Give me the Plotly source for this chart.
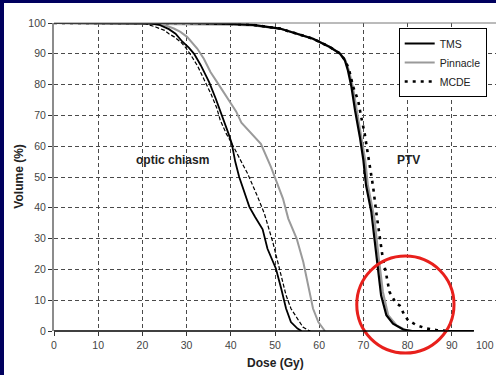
import plotly.graph_objects as go

# ---------------- data ----------------
# optic chiasm DVH
chiasm_tms_dose = [0, 20, 22, 24, 26, 27.5, 29, 30.5, 31.7, 33.2, 35.1, 36.6, 37.7, 38.8, 39.5,
                   40.2, 41, 41.9, 43, 44.2, 45.5, 47.2, 48.3, 50.2, 51.4, 52.5, 53.6, 55.1, 56]
chiasm_tms_vol = [100, 100, 99.8, 99.3, 98, 96.5, 94, 92, 90, 86.3, 80.8, 75.4, 71.1, 67.3, 64,
                  61, 55, 50, 45, 40.3, 37, 33, 26.7, 20.3, 13.8, 7.3, 2.9, 0.8, 0]

chiasm_pin_dose = [0, 22, 24.1, 27.1, 28.6, 30.1, 32.4, 33.9, 35.4, 36.9, 38.4, 39.9, 41.2, 42.4,
                   44.4, 46.8, 49.1, 50.7, 51.8, 53, 54.9, 56.4, 57.5, 58.6, 59.8, 61.3]
chiasm_pin_vol = [100, 100, 99.8, 98.2, 97.1, 95.5, 91.7, 88.4, 84.1, 80.8, 77.6, 74.4, 71.3, 67.6,
                  64.4, 60.8, 53.2, 47.3, 43, 36.5, 30, 22.4, 14.8, 7.3, 2.9, 0]

chiasm_mcde_dose = [0, 20.2, 23, 25, 26, 27.2, 28.7, 29.8, 31, 32.5, 34, 35.5, 36.8, 37.6, 39,
                    40.2, 42, 43.8, 46.1, 47.6, 49.5, 51, 52.5, 53.6, 55.1, 56.3, 57.4, 58]
chiasm_mcde_vol = [100, 100, 98.7, 97.6, 96.5, 95.5, 93.8, 92, 89.5, 86, 81.5, 77, 72.5, 68.5, 64,
                   61, 56, 51.1, 43.5, 38.1, 28.9, 20.3, 11.6, 7.3, 4, 1.3, 0.3, 0]

# PTV DVH
ptv_tms_dose = [0, 30, 40, 45, 51.1, 54.9, 58.6, 62.4, 64.7, 65.8, 66.5, 67.3, 68.1, 69.2, 70,
                70.6, 71.8, 72.5, 73.3, 74, 75.2, 76.7, 79, 81, 95]
ptv_tms_vol = [100, 100, 99.7, 99.4, 98.2, 96.6, 94.9, 92.2, 90.1, 87.9, 84.6, 79.2, 71.7, 63, 55.4,
               47.3, 38.6, 30, 20.3, 11.6, 5.1, 2.4, 0.5, 0, 0]

ptv_pin_dose = [0, 30, 40, 45, 51.1, 54.9, 58.6, 62.4, 64.7, 65.9, 66.7, 67.6, 68.5, 69.6, 70.4,
                71, 72.5, 73.3, 74.4, 75.6, 77.5, 79.5, 81]
ptv_pin_vol = [100, 99.8, 99.5, 99.2, 98.2, 96.6, 94.9, 92.2, 90.1, 87.9, 84.6, 79.2, 71.7, 63, 55.4,
               47.3, 36.5, 25.6, 12.7, 5.1, 1.8, 0.3, 0]

ptv_mcde_dose = [0, 30, 40, 45, 51.1, 54.9, 58.6, 62.4, 64.7, 65.9, 66.8, 67.7, 68.8, 69.5, 70.3,
                 71, 71.8, 72.2, 72.9, 73.7, 74.4, 75.2, 75.9, 77.4, 78.2, 79.3, 80.1, 82, 84.3, 86.5, 89]
ptv_mcde_vol = [100, 100, 99.7, 99.4, 98.2, 96.6, 94.9, 92.2, 90.1, 87.9, 84.6, 79.2, 74.9, 69.5, 64,
                57.6, 51.1, 46.8, 38.6, 30, 23.5, 18.1, 12.7, 8.9, 8.3, 5.1, 3.5, 1.9, 0.8, 0.3, 0]

x_ticks = [0, 10, 20, 30, 40, 50, 60, 70, 80, 90, 100]
y_ticks = [0, 10, 20, 30, 40, 50, 60, 70, 80, 90, 100]

# highlighted region (data units): centre and radii
circle_center = (79.5, 8.6)
circle_radius = (11.0, 15.75)
# extent of the baseline drawn along V = 0
baseline_end = 95

FONT = "Arial, Liberation Sans, sans-serif"
X_RANGE = [0, 100]
Y_RANGE = [0, 100]

fig = go.Figure()

gray = "#9a9a9a"
# Pinnacle (drawn first, underneath)
fig.add_trace(go.Scatter(x=chiasm_pin_dose, y=chiasm_pin_vol, mode="lines", name="Pinnacle",
                         line=dict(color=gray, width=2), legendgroup="pin", showlegend=False))
fig.add_trace(go.Scatter(x=ptv_pin_dose, y=ptv_pin_vol, mode="lines", name="Pinnacle",
                         line=dict(color=gray, width=2.2), legendgroup="pin", legendrank=2))
# TMS
fig.add_trace(go.Scatter(x=chiasm_tms_dose, y=chiasm_tms_vol, mode="lines", name="TMS",
                         line=dict(color="black", width=1.8), legendgroup="tms", showlegend=False))
fig.add_trace(go.Scatter(x=ptv_tms_dose, y=ptv_tms_vol, mode="lines", name="TMS",
                         line=dict(color="black", width=2.2), legendgroup="tms", legendrank=1))
# MCDE
fig.add_trace(go.Scatter(x=chiasm_mcde_dose, y=chiasm_mcde_vol, mode="lines", name="MCDE",
                         line=dict(color="black", width=1.2, dash="4px,2px"),
                         legendgroup="mcde", showlegend=False))
fig.add_trace(go.Scatter(x=ptv_mcde_dose, y=ptv_mcde_vol, mode="lines", name="MCDE",
                         line=dict(color="black", width=2.6, dash="3px,5px"),
                         legendgroup="mcde", legendrank=3))

fig.add_annotation(x=26.9, y=55.5, text="<b>optic chiasm</b>", showarrow=False,
                   font=dict(family=FONT, size=12, color="#222"))
fig.add_annotation(x=80.3, y=55.5, text="<b>PTV</b>", showarrow=False,
                   font=dict(family=FONT, size=12, color="#222"))

# axis titles
fig.add_annotation(xref="paper", yref="paper", x=-0.080, y=0.5, text="<b>Volume (%)</b>",
                   textangle=-90, showarrow=False, xanchor="center", yanchor="middle",
                   font=dict(family=FONT, size=12, color="#222"))
fig.add_annotation(xref="paper", yref="paper", x=0.5, y=-0.105, text="<b>Dose (Gy)</b>",
                   showarrow=False, xanchor="center", yanchor="middle",
                   font=dict(family=FONT, size=12, color="#222"))


def to_frac(v, axr):
    return (v - axr[0]) / (axr[1] - axr[0])

# last tick label sits at the page edge; keep it fully inside the page
fig.add_annotation(xref="paper", yref="paper", x=to_frac(x_ticks[-1], X_RANGE), y=-0.045,
                   text=str(x_ticks[-1]), showarrow=False, xanchor="right", yanchor="middle",
                   font=dict(family=FONT, size=10.5, color="#444"))

cx, cy = circle_center
rx, ry = circle_radius
fig.add_shape(type="circle", xref="paper", yref="paper",
              x0=to_frac(cx - rx, X_RANGE), x1=to_frac(cx + rx, X_RANGE),
              y0=to_frac(cy - ry, Y_RANGE), y1=to_frac(cy + ry, Y_RANGE),
              line=dict(color="#e8201c", width=3))

# top frame line
fig.add_shape(type="line", xref="paper", yref="paper", x0=0, x1=1, y0=1, y1=1,
              line=dict(color="#777", width=1))
# black baseline along V = 0
fig.add_shape(type="line", xref="paper", yref="paper", x0=0, x1=to_frac(baseline_end, X_RANGE),
              y0=0, y1=0, line=dict(color="black", width=1.5))

# navy slide frame (left and top bands)
W, H = 496, 375
L, R, T, B = 54, 0, 23, 44
pw, ph = W - L - R, H - T - B
navy = "#00005e"
fig.add_shape(type="rect", xref="paper", yref="paper", x0=-L / pw, x1=(4 - L) / pw,
              y0=-B / ph, y1=(H - B) / ph + 0.01, fillcolor=navy, line=dict(width=0))
fig.add_shape(type="rect", xref="paper", yref="paper", x0=-L / pw, x1=(W - L) / pw + 0.01,
              y0=(H - B - 3) / ph, y1=(H - B) / ph + 0.01, fillcolor=navy, line=dict(width=0))

grid = dict(showgrid=True, gridcolor="#4a4a4a", gridwidth=1, griddash="4px,3px")
fig.update_xaxes(range=X_RANGE, tickvals=x_ticks,
                 ticktext=[str(v) for v in x_ticks[:-1]] + [""],
                 ticks="outside", ticklen=4, tickcolor="#333", showline=False, zeroline=False,
                 automargin=False,
                 tickfont=dict(family=FONT, size=10.5, color="#444"), **grid)
fig.update_yaxes(range=Y_RANGE, tickvals=y_ticks, ticktext=[str(v) for v in y_ticks],
                 ticks="outside", ticklen=4, tickcolor="#333", showline=True, linecolor="#8c8c8c",
                 linewidth=2, zeroline=False, automargin=False,
                 tickfont=dict(family=FONT, size=10.5, color="#444"), **grid)

fig.update_layout(
    width=W, height=H,
    margin=dict(l=L, r=R, t=T, b=B),
    paper_bgcolor="white", plot_bgcolor="white",
    showlegend=True,
    legend=dict(x=(486.7 - L) / pw, y=(H - B - 28) / ph, xanchor="right", yanchor="top",
                bgcolor="white", bordercolor="black", borderwidth=1,
                font=dict(family=FONT, size=10.5, color="#222"),
                tracegroupgap=0, itemwidth=30),
    font=dict(family=FONT),
)

fig.write_html("out.html")
